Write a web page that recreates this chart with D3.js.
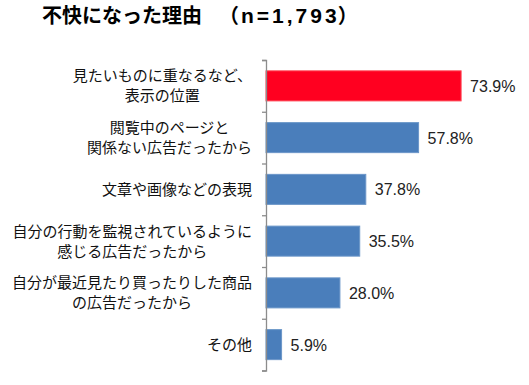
<!DOCTYPE html>
<html><head><meta charset="utf-8">
<script src="https://cdn.jsdelivr.net/npm/d3@7"></script>
<style>
html,body{margin:0;padding:0;background:#fff;}
svg{display:block;}
</style>
</head><body>
<svg id="chart" width="529" height="385"></svg>
<script>
const titleMain = "不快になった理由　";
const titleOpen = "（";
const titleN = "n=1,793";
const titleEnd = "）";
const categories = [
  ["見たいものに重なるなど、", "表示の位置"],
  ["閲覧中のページと", "関係ない広告だったから"],
  ["文章や画像などの表現"],
  ["自分の行動を監視されているように", "感じる広告だったから"],
  ["自分が最近見たり買ったりした商品", "の広告だったから"],
  ["その他"]
];
const values = [73.9, 57.8, 37.8, 35.5, 28.0, 5.9];
const highlight = [true, false, false, false, false, false];

const svg = d3.select("#chart");
const jp = "'Noto Sans CJK JP','Noto Sans',sans-serif";

const title = svg.append("text")
  .attr("x", 42).attr("y", 23)
  .attr("font-weight", "bold")
  .attr("fill", "#000");
title.append("tspan").attr("font-family", jp).attr("font-size", 20).text(titleMain);
title.append("tspan").attr("font-family", jp).attr("font-size", 20).attr("dx", 7).text(titleOpen);
title.append("tspan").attr("font-family", "'Liberation Sans', Arial, sans-serif")
  .attr("font-size", 21).attr("letter-spacing", 3).attr("dx", 2).text(titleN);
title.append("tspan").attr("font-family", jp).attr("font-size", 20).attr("dx", -2).text(titleEnd);

const ids = categories.map((d, i) => i);
const y = d3.scaleBand().domain(ids).range([60, 370.5]).paddingInner(0.42).paddingOuter(0.21);
const x = d3.scaleLinear().domain([0, 100]).range([266, 530]);

// bars
svg.append("g").selectAll("rect").data(values).join("rect")
  .attr("x", x(0))
  .attr("y", (d, i) => y(i))
  .attr("width", d => x(d) - x(0))
  .attr("height", y.bandwidth())
  .attr("fill", (d, i) => highlight[i] ? "#ff0020" : "#4a7ebb")
  .attr("stroke", (d, i) => highlight[i] ? "#ff4050" : "#6b96c8")
  .attr("stroke-width", 1);

// axis
const axisScale = d3.scaleLinear().domain([0, categories.length]).range([60, 370.5]);
const axis = d3.axisLeft(axisScale).ticks(categories.length).tickSize(4).tickFormat("");
const ag = svg.append("g").attr("transform", `translate(${x(0)},0)`).call(axis);
ag.select(".domain").attr("stroke", "#8c8c8c").attr("stroke-width", 1.3);
ag.selectAll(".tick line").attr("stroke", "#8c8c8c").attr("stroke-width", 1.3);

// value labels
svg.append("g").selectAll("text").data(values).join("text")
  .attr("x", d => x(d) + 9)
  .attr("y", (d, i) => y(i) + y.bandwidth() / 2 + 6)
  .attr("font-family", "'Liberation Sans', Arial, sans-serif")
  .attr("font-size", 16)
  .attr("fill", "#222")
  .text(d => d.toFixed(1) + "%");

// category labels: block right-aligned, lines centered within block
const labelRight = 252;
const lineH = 20;
const fs = 15;
const lg = svg.append("g");
categories.forEach((lines, i) => {
  const cy = y(i) + y.bandwidth() / 2;
  const g = lg.append("g");
  const texts = lines.map((t, k) => g.append("text")
    .attr("font-family", jp).attr("font-size", fs).attr("fill", "#111")
    .attr("text-anchor", "middle")
    .attr("y", cy + (k - (lines.length - 1) / 2) * lineH + fs * 0.36)
    .text(t));
  const w = d3.max(texts, t => t.node().getComputedTextLength());
  texts.forEach(t => t.attr("x", labelRight - w / 2));
});
</script>
</body></html>
